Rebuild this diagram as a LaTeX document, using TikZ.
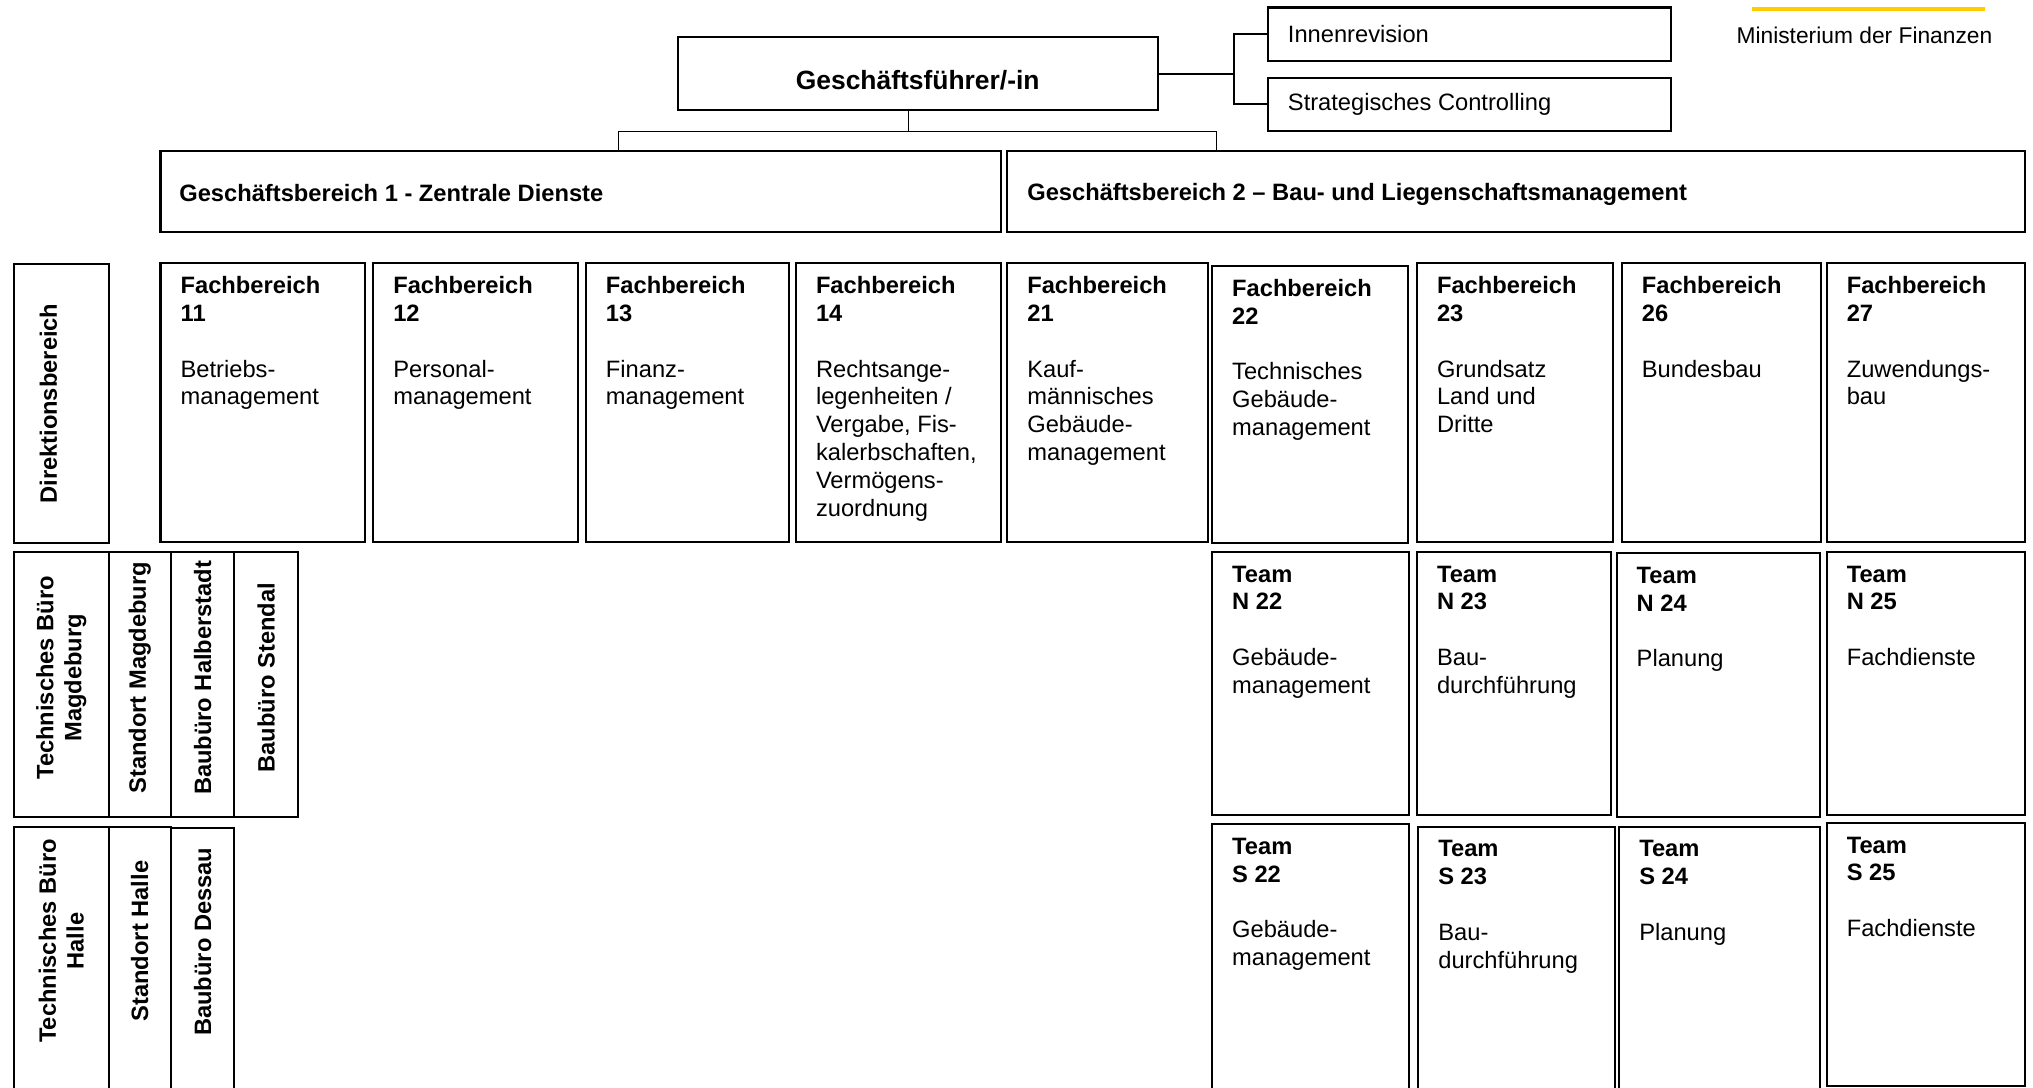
\documentclass[tikz,border=0pt]{standalone}
\usepackage{fontspec}
\setmainfont{Liberation Sans}
\usetikzlibrary{positioning, calc}
\definecolor{mfgold}{HTML}{FFCC00}
\newcommand{\bodyfont}{\fontsize{10.4}{12.2}\selectfont}
% box with text in its top left corner
\newcommand{\orgbox}[6]{%
	\node[box, minimum width=#4*0.02cm, minimum height=#5*0.02cm] (#1) at (#2,#3) {};
	\node[boxtext] (#1-t) at ([shift={(16,11)}]#1.north west) {#6};}
\newcommand{\head}[2]{\textbf{#1}\\\textbf{#2}\\[12.2pt]}

\begin{document}
\begin{tikzpicture}[x=0.02cm, y=-0.02cm,
		box/.style = {draw, line width=0.9pt, anchor=north west, inner sep=0pt},
		boxtext/.style = {anchor=north west, inner sep=0pt, align=left, font=\bodyfont},
		vtext/.style = {rotate=90, align=center, inner sep=0pt, font=\bodyfont\bfseries},
		link/.style = {line width=0.6pt}]
	\useasboundingbox (0,0) rectangle (1568,839);

	% Ministerium
	\draw[mfgold, line width=1.4pt] (1351,7) -- (1531,7);
	\node[font=\fontsize{10}{12}\selectfont] (mdf) at (1438,27) {Ministerium der Finanzen};

	% Leitung
	\node[box, minimum width=370*0.02cm, minimum height=56*0.02cm] (gf) at (522,28) {};
	\node[font=\fontsize{11.6}{14}\selectfont\bfseries] (gf-t) at ([shift={(0,5)}]gf.center) {Geschäftsführer/-in};
	\node[box, minimum width=311*0.02cm, minimum height=41*0.02cm] (innen) at (977,5) {};
	\node[boxtext, anchor=west] (innen-t) at ([shift={(16,0)}]innen.west) {Innenrevision};
	\node[box, minimum width=311*0.02cm, minimum height=41*0.02cm] (strat) at (977,59) {};
	\node[boxtext, anchor=west] (strat-t) at ([shift={(16,0)}]strat.west) {Strategisches Controlling};
	\node[box, minimum width=648*0.02cm, minimum height=62*0.02cm] (gb1) at (123,116) {};
	\node[boxtext, anchor=west, font=\bodyfont\bfseries] (gb1-t) at ([shift={(15,1)}]gb1.west) {Geschäftsbereich 1 - Zentrale Dienste};
	\node[box, minimum width=785*0.02cm, minimum height=62*0.02cm] (gb2) at (776,116) {};
	\node[boxtext, anchor=west, font=\bodyfont\bfseries] (gb2-t) at ([shift={(16,2)}]gb2.west) {Geschäftsbereich 2 – Bau- und Liegenschaftsmanagement};

	\draw[link, line width=0.9pt] (gf.east) -- ++(58,0) coordinate (stab) |- (innen.west);
	\draw[link, line width=0.9pt] (stab) |- (strat.west);
	\draw[link] ([shift={(-7,0)}]gf.south) -- ++(0,16) coordinate (bus);
	\draw[link] (bus) -| ([shift={(29,0)}]gb1.north);
	\draw[link] (bus) -| ([shift={(-231,0)}]gb2.north);

	% Direktionsbereich
	\node[box, minimum width=73*0.02cm, minimum height=215*0.02cm] (dir) at (10,203) {};
	\node[vtext] (dir-t) at ([shift={(-10,0)}]dir.center) {Direktionsbereich};
	\orgbox{fb11}{123}{202}{158}{215}{\head{Fachbereich}{11}Betriebs-\\management}
	\orgbox{fb12}{287}{202}{158}{215}{\head{Fachbereich}{12}Personal-\\management}
	\orgbox{fb13}{451}{202}{157}{215}{\head{Fachbereich}{13}Finanz-\\management}
	\orgbox{fb14}{613}{202}{158}{215}{\head{Fachbereich}{14}Rechtsange-\\legenheiten /\\Vergabe, Fis-\\kalerbschaften,\\Vermögens-\\zuordnung}
	\orgbox{fb21}{776}{202}{155}{215}{\head{Fachbereich}{21}Kauf-\\männisches\\Gebäude-\\management}
	\orgbox{fb22}{934}{204}{151}{214}{\head{Fachbereich}{22}Technisches\\Gebäude-\\management}
	\orgbox{fb23}{1092}{202}{151}{215}{\head{Fachbereich}{23}Grundsatz\\Land und\\Dritte}
	\orgbox{fb26}{1250}{202}{154}{215}{\head{Fachbereich}{26}Bundesbau}
	\orgbox{fb27}{1408}{202}{153}{215}{\head{Fachbereich}{27}Zuwendungs-\\bau}

	% Technisches Buero Magdeburg
	\node[box, minimum width=73*0.02cm, minimum height=204*0.02cm] (tbmd) at (10,425) {};
	\node[box, minimum width=48*0.02cm, minimum height=204*0.02cm] (stmd) at (83,425) {};
	\node[box, minimum width=49*0.02cm, minimum height=204*0.02cm] (bbhs) at (131,425) {};
	\node[box, minimum width=49*0.02cm, minimum height=204*0.02cm] (bbsd) at (180,425) {};
	\node[vtext] (tbmd-t) at ([shift={(0,-5)}]tbmd.center) {Technisches Büro\\Magdeburg};
	\node[vtext] (stmd-t) at ([shift={(0,-5)}]stmd.center) {Standort Magdeburg};
	\node[vtext] (bbhs-t) at ([shift={(0,-5)}]bbhs.center) {Baubüro Halberstadt};
	\node[vtext] (bbsd-t) at ([shift={(0,-5)}]bbsd.center) {Baubüro Stendal};
	\orgbox{n22}{934}{425}{152}{203}{\head{Team}{N 22}Gebäude-\\management}
	\orgbox{n23}{1092}{425}{150}{203}{\head{Team}{N 23}Bau-\\durchführung}
	\orgbox{n24}{1246}{426}{157}{203}{\head{Team}{N 24}Planung}
	\orgbox{n25}{1408}{425}{153}{203}{\head{Team}{N 25}Fachdienste}

	% Technisches Buero Halle
	\node[box, minimum width=73*0.02cm, minimum height=208*0.02cm] (tbha) at (10,637) {};
	\node[box, minimum width=48*0.02cm, minimum height=208*0.02cm] (stha) at (83,637) {};
	\node[box, minimum width=49*0.02cm, minimum height=207*0.02cm] (bbde) at (131,638) {};
	\node[vtext] (tbha-t) at ([shift={(0,-16)}]tbha.center) {Technisches Büro\\Halle};
	\node[vtext] (stha-t) at ([shift={(0,-16)}]stha.center) {Standort Halle};
	\node[vtext] (bbde-t) at ([shift={(0,-16)}]bbde.center) {Baubüro Dessau};
	\orgbox{s22}{934}{635}{152}{210}{\head{Team}{S 22}Gebäude-\\management}
	\orgbox{s23}{1093}{637}{152}{208}{\head{Team}{S 23}Bau-\\durchführung}
	\orgbox{s24}{1248}{637}{155}{208}{\head{Team}{S 24}Planung}
	\orgbox{s25}{1408}{634}{153}{203}{\head{Team}{S 25}Fachdienste}
\end{tikzpicture}
\end{document}
